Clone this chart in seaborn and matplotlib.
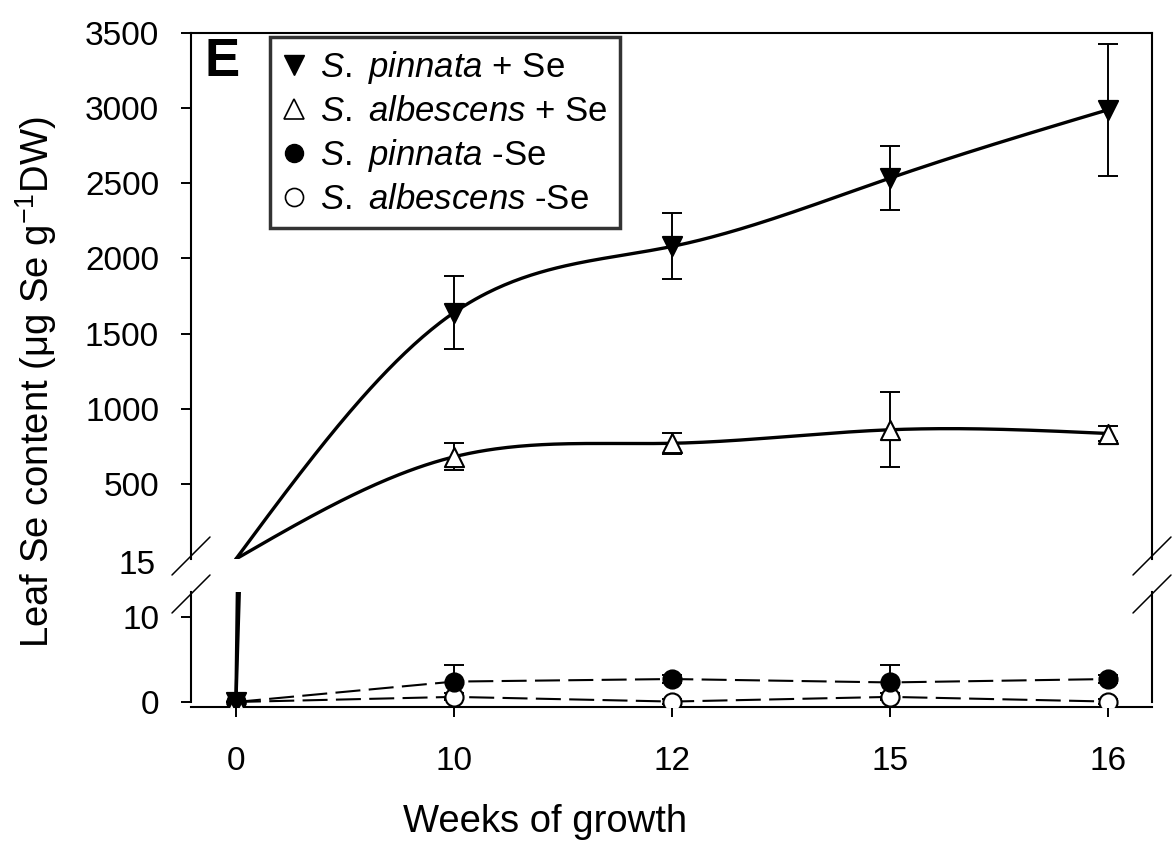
import numpy as np
import pandas as pd
import matplotlib
matplotlib.use('Agg')
import matplotlib.pyplot as plt
import seaborn as sns
from matplotlib.lines import Line2D

# ---------------- data ----------------
weeks = ['0', '10', '12', '15', '16']
pinnata_se = [0, 1640, 2080, 2535, 2990]
pinnata_se_err = [0, 240, 220, 210, 440]
albescens_se = [0, 680, 770, 860, 835]
albescens_se_err = [0, 90, 70, 250, 47]
pinnata_ctrl = [0, 2.4, 2.7, 2.3, 2.7]
pinnata_ctrl_err = [0, 2.0, 0.5, 2.0, 0.5]
albescens_ctrl = [0, 0.6, 0.05, 0.6, 0.05]
albescens_ctrl_err = [0, 0.4, 0.3, 0.4, 0.3]
upper_ticks = [500, 1000, 1500, 2000, 2500, 3000, 3500]
lower_ticks = [0, 10]
break_label = '15'
labels = [r'$\mathit{S.}$ $\mathit{pinnata}$ + Se', r'$\mathit{S.}$ $\mathit{albescens}$ + Se',
          r'$\mathit{S.}$ $\mathit{pinnata}$ -Se', r'$\mathit{S.}$ $\mathit{albescens}$ -Se']

# ---------------- style ----------------
sns.set_theme(style='ticks')
plt.rcParams['font.family'] = ['Liberation Sans', 'DejaVu Sans']
plt.rcParams['mathtext.fontset'] = 'custom'
plt.rcParams['mathtext.rm'] = 'Liberation Sans'
plt.rcParams['mathtext.it'] = 'Liberation Sans:italic'
plt.rcParams['mathtext.bf'] = 'Liberation Sans:bold'
plt.rcParams['mathtext.default'] = 'regular'
plt.rcParams['text.color'] = 'black'
plt.rcParams['axes.labelcolor'] = 'black'
plt.rcParams['xtick.color'] = 'black'
plt.rcParams['ytick.color'] = 'black'

FS_TICK = 24
FS_LEG = 25
FS_LAB = 27.5
W, H = 1172, 841
fig = plt.figure(figsize=(W / 100, H / 100), dpi=100)
L, R = 191, 1152
up_top, up_bot = 33, 559
lo_top, lo_bot = 592, 707


def rect(top, bot):
    return [L / W, 1 - bot / H, (R - L) / W, (bot - top) / H]


ax_up = fig.add_axes(rect(up_top, up_bot))
ax_lo = fig.add_axes(rect(lo_top, lo_bot))

x = np.arange(len(weeks))
xlim = (-0.206, 4.2)
up_lim = (0, 3500)
lo_lim = (-0.59, 12.94)


def natural_spline(xv, yv, n=300):
    xv = np.asarray(xv, float)
    yv = np.asarray(yv, float)
    k = len(xv)
    h = np.diff(xv)
    A = np.zeros((k, k))
    b = np.zeros(k)
    A[0, 0] = A[-1, -1] = 1
    for i in range(1, k - 1):
        A[i, i - 1] = h[i - 1]
        A[i, i] = 2 * (h[i - 1] + h[i])
        A[i, i + 1] = h[i]
        b[i] = 6 * ((yv[i + 1] - yv[i]) / h[i] - (yv[i] - yv[i - 1]) / h[i - 1])
    M = np.linalg.solve(A, b)
    xs = np.linspace(xv[0], xv[-1], n)
    idx = np.clip(np.searchsorted(xv, xs) - 1, 0, k - 2)
    x0, x1 = xv[idx], xv[idx + 1]
    hh = x1 - x0
    t0, t1 = x1 - xs, xs - x0
    ys = (M[idx] * t0 ** 3 / (6 * hh) + M[idx + 1] * t1 ** 3 / (6 * hh)
          + (yv[idx] / hh - M[idx] * hh / 6) * t0
          + (yv[idx + 1] / hh - M[idx + 1] * hh / 6) * t1)
    return xs, ys


curves = []
for vals in (pinnata_se, albescens_se):
    xs, ys = natural_spline(x, vals)
    curves.append((xs, ys))

series = [
    (albescens_ctrl, albescens_ctrl_err, 'o', 'white', 170),
    (pinnata_ctrl, pinnata_ctrl_err, 'o', 'black', 170),
    (albescens_se, albescens_se_err, '^', 'white', 190),
    (pinnata_se, pinnata_se_err, 'v', 'black', 190),
]

for ax, lim in ((ax_up, up_lim), (ax_lo, lo_lim)):
    for xs, ys in curves:
        sns.lineplot(x=xs, y=ys, ax=ax, color='black', lw=2.4,
                     estimator=None, sort=False, zorder=2)
    if ax is ax_lo:
        for vals in (pinnata_ctrl, albescens_ctrl):
            sns.lineplot(x=x, y=vals, ax=ax, color='black', lw=1.5,
                         linestyle=(0, (12, 4)), estimator=None, sort=False,
                         zorder=2)
    for k, (vals, err, mk, fc, sz) in enumerate(series):
        v = np.asarray(vals, float)
        e = np.asarray(err, float)
        if ax is ax_up:
            mask = v > lim[0] + (lim[1] - lim[0]) * 0.02
        else:
            mask = v <= lim[1]
        if mask.sum() == 0:
            continue
        ax.errorbar(x[mask], v[mask], yerr=e[mask], fmt='none', ecolor='black',
                    elinewidth=1.4, capsize=7, capthick=1.4, zorder=3)
        sns.scatterplot(x=x[mask], y=v[mask], ax=ax, marker=mk, s=sz,
                        color=fc, edgecolor='black', linewidth=1.5, zorder=5 + k,
                        legend=False)
    ax.set_xlim(*xlim)
    ax.set_ylim(*lim)
    ax.set_xlabel('')
    ax.set_ylabel('')
    for s in ax.spines.values():
        s.set_linewidth(1.5)
        s.set_color('black')

# upper axes formatting
ax_up.spines['bottom'].set_visible(False)
ax_up.set_yticks(upper_ticks)
ax_up.set_yticklabels([str(t) for t in upper_ticks])
ax_up.tick_params(axis='x', bottom=False, labelbottom=False)
ax_up.tick_params(axis='y', direction='out', length=7, width=1.4,
                  labelsize=FS_TICK, pad=16, colors='black')

# lower axes formatting
ax_lo.spines['top'].set_visible(False)
ax_lo.spines['left'].set_bounds(0, lo_lim[1])
ax_lo.spines['right'].set_bounds(0, lo_lim[1])
ax_lo.set_yticks(lower_ticks)
ax_lo.set_yticklabels([str(t) for t in lower_ticks])
ax_lo.set_xticks(x)
ax_lo.set_xticklabels(weeks)
ax_lo.tick_params(axis='both', direction='out', length=7, width=1.4,
                  labelsize=FS_TICK, colors='black')
ax_lo.tick_params(axis='y', pad=16)
ax_lo.tick_params(axis='x', pad=21)

# break label and marks
fig.text(156 / W, 1 - 566 / H, break_label, ha='right', va='center',
         fontsize=FS_TICK, color='black')
for sx in (L, R):
    for cy in (556, 594):
        fig.add_artist(Line2D([(sx - 19) / W, (sx + 19) / W],
                              [1 - (cy + 19) / H, 1 - (cy - 19) / H],
                              color='black', lw=1.1, transform=fig.transFigure))

# axis labels
fig.text(545 / W, 1 - 822 / H, 'Weeks of growth', ha='center', va='center',
         fontsize=FS_LAB, color='black')
fig.text(36 / W, 1 - 382 / H, 'Leaf Se content (μg Se g$^{-1}$DW)',
         rotation=90, ha='center', va='center', fontsize=FS_LAB, color='black')

# panel letter
ax_up.text(0.014, 0.992, 'E', transform=ax_up.transAxes, ha='left', va='top',
           fontsize=38, fontweight='bold', color='black')

# legend
handles = [
    Line2D([], [], marker='v', color='black', markerfacecolor='black', linestyle='none', markersize=14),
    Line2D([], [], marker='^', color='black', markerfacecolor='white', linestyle='none', markersize=14, markeredgewidth=1.2),
    Line2D([], [], marker='o', color='black', markerfacecolor='black', linestyle='none', markersize=13),
    Line2D([], [], marker='o', color='black', markerfacecolor='white', linestyle='none', markersize=13, markeredgewidth=1.2),
]
leg = ax_up.legend(handles, labels, loc='upper left',
                   bbox_to_anchor=(270 / W, 1 - 37 / H),
                   bbox_transform=fig.transFigure, borderaxespad=0,
                   fontsize=FS_LEG, frameon=True, fancybox=False,
                   handlelength=0.7, handletextpad=0.4, borderpad=0.35,
                   labelspacing=0.26, labelcolor='black')
leg.get_frame().set_edgecolor('black')
leg.get_frame().set_linewidth(2.5)

fig.savefig('out.png', dpi=100, facecolor='white')
